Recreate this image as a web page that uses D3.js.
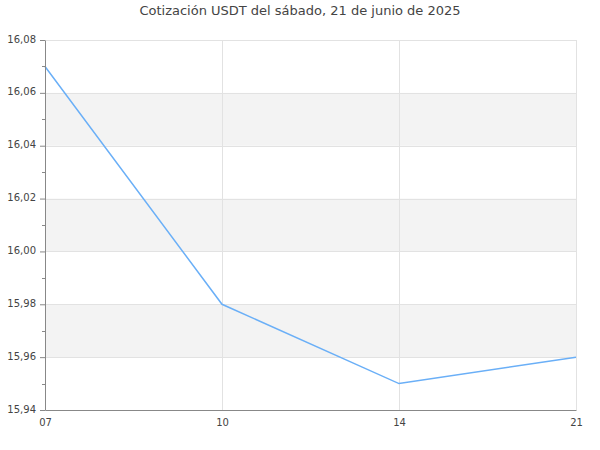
<!DOCTYPE html>
<html>
<head>
<meta charset="utf-8">
<script src="https://cdn.jsdelivr.net/npm/d3@7"></script>
<style>
  body { margin: 0; background: #fff; }
  text { font-family: "DejaVu Sans", sans-serif; fill: #444; }
</style>
</head>
<body>
<div id="canvas"></div>
<script>
var title = 'Cotización USDT del sábado, 21 de junio de 2025';
var hours = ['07', '10', '14', '21'];
var prices = [16.07, 15.98, 15.95, 15.96];
var yTicks = [15.94, 15.96, 15.98, 16.00, 16.02, 16.04, 16.06, 16.08];
var yMinor = [15.95, 15.97, 15.99, 16.01, 16.03, 16.05, 16.07];

var W = 600, H = 450,
    m = {t: 40, r: 24, b: 40, l: 45},
    w = W - m.l - m.r,
    h = H - m.t - m.b;

var svg = d3.select('#canvas')
  .append('svg')
  .attr('width', W)
  .attr('height', H);

svg.append('text')
  .attr('x', W / 2)
  .attr('y', 15)
  .style('text-anchor', 'middle')
  .style('font-size', '13px')
  .text(title);

var plot = svg.append('g')
  .attr('transform', 'translate(' + m.l + ',' + m.t + ')');

// Scales
var x = d3.scalePoint().domain(hours).range([0, w]);
var y = d3.scaleLinear().domain([15.94, 16.08]).range([h, 0]);

var fmt = function(d) { return d3.format('.2f')(d).replace('.', ','); };

// alternating bands
var bands = [];
for (var i = 0; i < yTicks.length - 1; i++) {
  if (i % 2 === 1) bands.push([yTicks[i], yTicks[i + 1]]);
}
plot.selectAll('.band').data(bands).enter()
  .append('rect')
  .attr('class', 'band')
  .attr('x', 0)
  .attr('width', w)
  .attr('y', function(d) { return y(d[1]); })
  .attr('height', function(d) { return y(d[0]) - y(d[1]); })
  .attr('fill', '#f3f3f3');

// grid
plot.selectAll('.hgrid').data(yTicks).enter()
  .append('line')
  .attr('x1', 0).attr('x2', w)
  .attr('y1', function(d) { return Math.round(y(d)) + 0.5; })
  .attr('y2', function(d) { return Math.round(y(d)) + 0.5; })
  .attr('stroke', '#e2e2e2');

plot.selectAll('.vgrid').data(hours.slice(1)).enter()
  .append('line')
  .attr('y1', 0).attr('y2', h)
  .attr('x1', function(d) { return Math.round(x(d)) + 0.5; })
  .attr('x2', function(d) { return Math.round(x(d)) + 0.5; })
  .attr('stroke', '#e2e2e2');

// line
var line = d3.line()
  .x(function(d, i) { return x(hours[i]); })
  .y(function(d) { return y(d); });

plot.append('path')
  .datum(prices)
  .attr('d', line)
  .attr('fill', 'none')
  .attr('stroke', '#6aaff7')
  .attr('stroke-width', 1.5);

// Axis
var axisY = d3.axisLeft(y).tickValues(yTicks).tickFormat(fmt).tickSize(5).tickSizeOuter(0);
var gy = plot.append('g').call(axisY);
gy.select('.domain').attr('stroke', '#888');
gy.selectAll('.tick line').attr('stroke', '#888');
gy.selectAll('.tick text')
  .attr('x', -9)
  .attr('dy', '0.2em')
  .style('font-size', '10px')
  .style('font-family', '"DejaVu Sans", sans-serif')
  .attr('fill', '#444');

plot.selectAll('.minor').data(yMinor).enter()
  .append('line')
  .attr('x1', -3).attr('x2', 0)
  .attr('y1', function(d) { return Math.round(y(d)) + 0.5; })
  .attr('y2', function(d) { return Math.round(y(d)) + 0.5; })
  .attr('stroke', '#888');

var axisX = d3.axisBottom(x).tickSize(0).tickSizeOuter(0);
var gx = plot.append('g')
  .attr('transform', 'translate(0,' + h + ')')
  .call(axisX);
gx.select('.domain').attr('stroke', '#888');
gx.selectAll('.tick text')
  .attr('dy', '1.3em')
  .style('font-size', '10px')
  .style('font-family', '"DejaVu Sans", sans-serif')
  .attr('fill', '#444');
</script>
</body>
</html>
